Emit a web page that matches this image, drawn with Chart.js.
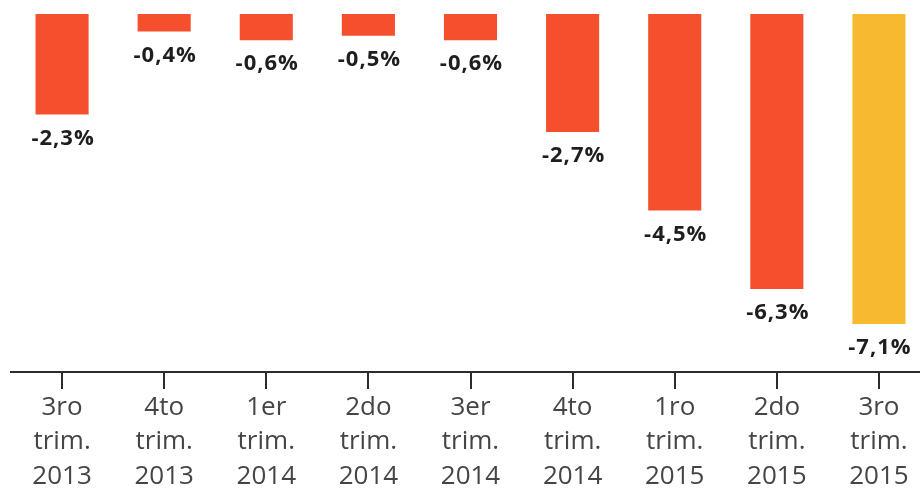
<!DOCTYPE html>
<html>
<head>
<meta charset="utf-8">
<script src="https://cdn.jsdelivr.net/npm/chart.js@4"></script>
<style>
  html, body { margin: 0; padding: 0; background: #fff; overflow: hidden; }
  #wrap { width: 930px; height: 491px; }
</style>
</head>
<body>
<div id="wrap"><canvas id="chart" width="930" height="491"></canvas></div>
<script>
// Data
const categories = [
    ['3ro', 'trim.', '2013'],
    ['4to', 'trim.', '2013'],
    ['1er', 'trim.', '2014'],
    ['2do', 'trim.', '2014'],
    ['3er', 'trim.', '2014'],
    ['4to', 'trim.', '2014'],
    ['1ro', 'trim.', '2015'],
    ['2do', 'trim.', '2015'],
    ['3ro', 'trim.', '2015']
];
const values = [-2.3, -0.4, -0.6, -0.5, -0.6, -2.7, -4.5, -6.3, -7.1];
const barColors = ['#f64f2d', '#f64f2d', '#f64f2d', '#f64f2d', '#f64f2d', '#f64f2d', '#f64f2d', '#f64f2d', '#f6b92f'];

// Format value like "-2,3%"
function formatPct(v) {
    return v.toFixed(1).replace('.', ',') + '%';
}

// Value labels under each bar
const valueLabels = {
    id: 'valueLabels',
    afterDatasetsDraw(chart) {
        const ctx = chart.ctx;
        const meta = chart.getDatasetMeta(0);
        ctx.save();
        ctx.font = 'bold 22px "Open Sans", sans-serif';
        ctx.letterSpacing = '1px';
        ctx.fillStyle = '#1e1e1e';
        ctx.textAlign = 'center';
        ctx.textBaseline = 'middle';
        meta.data.forEach((bar, i) => {
            ctx.fillText(formatPct(values[i]), bar.x + 1, bar.y + 24);
        });
        ctx.restore();
    }
};

new Chart(document.getElementById('chart'), {
    type: 'bar',
    data: {
        labels: categories,
        datasets: [{
            data: values,
            backgroundColor: barColors,
            borderWidth: 0,
            barPercentage: 0.52,
            categoryPercentage: 1
        }]
    },
    options: {
        responsive: false,
        animation: false,
        devicePixelRatio: 1,
        layout: { padding: { top: 14, left: 11, right: 0, bottom: 0 } },
        plugins: {
            legend: { display: false },
            tooltip: { enabled: false }
        },
        scales: {
            y: {
                display: false,
                min: -8.2,
                max: 0
            },
            x: {
                afterFit: (scale) => { scale.height = 119; },
                border: { display: true, color: '#2b2b2b', width: 2 },
                grid: {
                    offset: false,
                    drawOnChartArea: false,
                    drawTicks: true,
                    tickLength: 17,
                    color: '#2b2b2b',
                    lineWidth: 2
                },
                ticks: {
                    color: '#454545',
                    padding: 1,
                    maxRotation: 0,
                    autoSkip: false,
                    font: { family: '"Open Sans", sans-serif', size: 26, lineHeight: 1.33 }
                }
            }
        }
    },
    plugins: [valueLabels]
});
</script>
</body>
</html>
